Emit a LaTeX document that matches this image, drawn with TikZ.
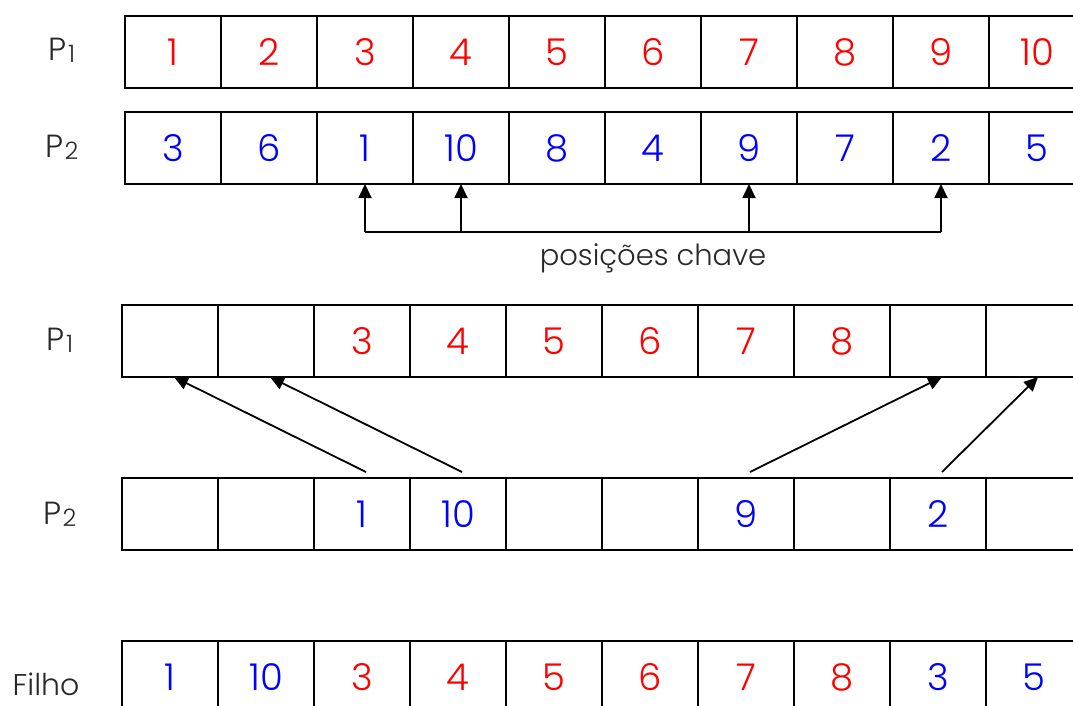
\documentclass[tikz,border=0pt]{standalone}
\usepackage{fontspec}
\setmainfont{Poppins}[UprightFont={* Light}]
\usetikzlibrary{arrows.meta,calc}
\definecolor{cred}{RGB}{255,0,0}
\definecolor{cblue}{RGB}{0,0,255}
\definecolor{lblgray}{RGB}{40,40,40}
\begin{document}
\begin{tikzpicture}[x=1pt,y=-1pt,
 cell/.style={draw, line width=1.8pt, minimum width=96pt, minimum height=72pt, inner sep=0pt, outer sep=0pt, anchor=north west, font=\fontsize{37}{37}\selectfont},
 lbl/.style={font=\fontsize{32}{32}\selectfont, text=lblgray},
 arr/.style={line width=1.8pt, -{Triangle[length=14pt,width=13pt]}},
 ln/.style={line width=1.8pt},
]
\useasboundingbox (0,0) rectangle (1073,706);
\clip (0,0) rectangle (1073,706);
% row 1 : P1
\foreach \v [count=\i from 0] in {1,2,3,4,5,6,7,8,9,10}
  \node[cell,text=cred] (a\i) at (125+96*\i,16) {\v};
% row 2 : P2
\foreach \v [count=\i from 0] in {3,6,1,10,8,4,9,7,2,5}
  \node[cell,text=cblue] (b\i) at (125+96*\i,112) {\v};
% row 3 : P1 partial
\foreach \v [count=\i from 0] in {{},{},3,4,5,6,7,8,{},{}}
  \node[cell,text=cred] (c\i) at (122+96*\i,305) {\v};
% row 4 : P2 partial
\foreach \v [count=\i from 0] in {{},{},1,10,{},{},9,{},2,{}}
  \node[cell,text=cblue] (d\i) at (122+96*\i,478) {\v};
% row 5 : Filho
\foreach \v/\c [count=\i from 0] in {1/cblue,10/cblue,3/cred,4/cred,5/cred,6/cred,7/cred,8/cred,3/cblue,5/cblue}
  \node[cell,text=\c] (e\i) at (122+96*\i,641) {\v};
% labels
\node[lbl] (l1) at (62,50) {P\kern1pt{\fontsize{24}{24}\selectfont\raisebox{-2pt}{1}}};
\node[lbl] (l2) at (62,147) {P\kern1pt{\fontsize{24}{24}\selectfont\raisebox{-2pt}{2}}};
\node[lbl] (l3) at (60,340) {P\kern1pt{\fontsize{24}{24}\selectfont\raisebox{-2pt}{1}}};
\node[lbl] (l4) at (60,514) {P\kern1pt{\fontsize{24}{24}\selectfont\raisebox{-2pt}{2}}};
\node[lbl, font=\fontsize{30}{30}\selectfont] (l5) at (46,684) {Filho};
% key positions
\coordinate (kb) at (0,232);
\draw[ln] (b2.south |- kb) -- (b8.south |- kb);
\foreach \k in {2,3,6,8}
  \draw[arr] (b\k.south |- kb) -- (b\k.south);
\node[font=\fontsize{29}{29}\selectfont, text=lblgray] (pc) at (653,258) {posições chave};
% transfer arrows
\draw[arr] ($(d2.north)+(4,-6)$) -- ($(c0.south)+(4,0)$);
\draw[arr] ($(d3.north)+(4,-6)$) -- ($(c1.south)+(4,0)$);
\draw[arr] ($(d6.north)+(4,-6)$) -- ($(c8.south)+(4,0)$);
\draw[arr] ($(d8.north)+(4,-6)$) -- ($(c9.south)+(4,0)$);
\end{tikzpicture}
\end{document}
